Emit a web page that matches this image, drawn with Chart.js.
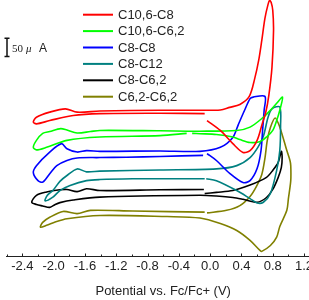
<!DOCTYPE html>
<html>
<head>
<meta charset="utf-8">
<script src="https://cdn.jsdelivr.net/npm/chart.js@4.4.0/dist/chart.umd.min.js"></script>
<style>
  html, body { margin: 0; padding: 0; background: #fff; overflow: hidden; }
  body { width: 309px; height: 300px; }
  canvas { display: block; }
</style>
</head>
<body>
<canvas id="cv-chart" width="330" height="300"></canvas>
<script>
// Potential (V vs Fc/Fc+) and current (uA, curves offset)
const seriesLabels = ['C10,6-C8', 'C10,6-C6,2', 'C8-C8', 'C8-C12', 'C8-C6,2', 'C6,2-C6,2'];
const seriesColors = ['#ff0000', '#00ff00', '#0000ff', '#008080', '#000000', '#808000'];

const redX = [-0.07, -0.64, -1.41, -1.75, -2.05, -2.22, -2.26, -2.22, -2.05, -1.85, -1.70, -1.41, -0.64, -0.13, 0.13, 0.25, 0.38, 0.50, 0.57, 0.62, 0.66, 0.70, 0.74, 0.76, 0.78, 0.80, 0.81, 0.79, 0.75, 0.71, 0.66, 0.60, 0.51, 0.42, 0.29, 0.13, -0.04];
const redY = [390, 391, 390, 385, 371, 362, 367, 380, 394, 403, 394, 397, 399, 399, 400, 407, 415, 437, 486, 535, 590, 650, 688, 699, 693, 672, 617, 516, 440, 393, 358, 317, 289, 284, 308, 344, 371];

const greenX = [-0.30, -0.64, -1.41, -1.83, -2.09, -2.22, -2.26, -2.22, -2.14, -2.05, -1.91, -1.83, -1.70, -1.53, -1.41, -0.64, -0.13, 0.34, 0.51, 0.68, 0.77, 0.85, 0.925, 0.89, 0.85, 0.80, 0.72, 0.64, 0.51, 0.38, 0.29, 0.08, -0.13, -0.23];
const greenY = [336, 330, 326, 317, 298, 291, 298, 317, 336, 341, 349, 345, 337, 341, 344, 343, 342, 344, 353, 380, 399, 418, 435, 399, 371, 344, 326, 314, 311, 319, 326, 333, 335, 336];

const blueX = [-0.09, -0.64, -1.07, -1.41, -1.70, -1.83, -1.96, -2.05, -2.14, -2.20, -2.26, -2.22, -2.05, -1.90, -1.83, -1.70, -1.58, -1.41, -0.64, -0.13, 0.13, 0.29, 0.36, 0.44, 0.51, 0.55, 0.70, 0.69, 0.67, 0.65, 0.60, 0.51, 0.42, 0.25, 0.08, -0.04];
const blueY = [276, 273, 271, 270, 269, 262, 248, 226, 203, 207, 229, 248, 285, 308, 294, 285, 289, 287, 288, 287, 298, 325, 360, 399, 431, 435, 437, 399, 344, 289, 240, 207, 202, 227, 262, 281];

const tealX = [-0.07, -0.64, -0.99, -1.41, -1.58, -1.79, -1.92, -2.01, -2.11, -2.08, -2.01, -1.92, -1.83, -1.70, -1.58, -1.41, -0.64, 0.08, 0.34, 0.51, 0.61, 0.68, 0.74, 0.79, 0.89, 0.90, 0.89, 0.85, 0.77, 0.68, 0.60, 0.51, 0.34, 0.08, -0.05];
const tealY = [212, 212, 212, 210, 207, 194, 180, 162, 152, 167, 180, 205, 221, 239, 231, 233, 236, 239, 248, 270, 298, 328, 380, 403, 408, 358, 289, 235, 172, 148, 146, 158, 180, 207, 212];

const blackX = [-0.07, 0.08, 0.29, 0.51, 0.72, 0.80, 0.87, 0.91, 0.92, 0.91, 0.87, 0.80, 0.72, 0.60, 0.42, 0.29, 0.08, -0.13, -1.41, -1.75, -1.92, -1.98, -2.05, -2.14, -2.22, -2.28, -2.22, -2.09, -1.92, -1.83, -1.70, -1.58, -1.41, -0.64, -0.08];
const blackY = [172, 175, 180, 195, 216, 235, 257, 287, 270, 243, 216, 183, 161, 148, 156, 161, 165, 167, 162, 154, 147, 142, 134, 138, 142, 148, 167, 176, 182, 183, 177, 185, 180, 182, 183];

const oliveX = [-0.04, 0.21, 0.38, 0.51, 0.59, 0.66, 0.70, 0.73, 0.77, 0.83, 0.89, 0.98, 1.02, 1.03, 1.03, 1.00, 0.98, 0.89, 0.85, 0.77, 0.66, 0.64, 0.51, 0.34, 0.13, -0.13, -0.55, -1.41, -1.83, -1.98, -2.09, -2.17, -2.14, -2.05, -1.88, -1.70, -1.53, -0.99, -0.07];
const oliveY = [119, 126, 139, 164, 191, 224, 268, 317, 352, 378, 353, 289, 262, 248, 207, 158, 126, 82, 53, 30, 14, 16, 44, 71, 90, 105, 109, 112, 103, 94, 85, 80, 93, 107, 123, 117, 126, 124, 121];

// x axis ticks (labelled every 0.4 V, small marks between)
const xMajorTicks = [-2.4, -2.0, -1.6, -1.2, -0.8, -0.4, 0.0, 0.4, 0.8, 1.2];
const xMinorTicks = [-2.6, -2.2, -1.8, -1.4, -1.0, -0.6, -0.2, 0.2, 0.6, 1.0];
const scaleBarValue = 50; // uA

const seriesX = [redX, greenX, blueX, tealX, blackX, oliveX];
const seriesY = [redY, greenY, blueY, tealY, blackY, oliveY];

const SANS = "'Liberation Sans', Arial, sans-serif";
const SERIF = "'Liberation Serif', 'Times New Roman', serif";
Chart.defaults.font.family = SANS;
Chart.defaults.color = '#222';

const datasets = seriesLabels.map((label, i) => ({
    label: label,
    data: seriesX[i].map((x, j) => ({ x: x, y: seriesY[i][j] })),
    showLine: true,
    borderColor: seriesColors[i],
    backgroundColor: seriesColors[i],
    borderWidth: 1.6,
    pointRadius: 0,
    tension: 0.3,
    fill: false
}));

// draws inward ticks, the 50 uA scale bar and the legend
const decorPlugin = {
    id: 'decor',
    afterDraw(chart) {
        const ctx = chart.ctx;
        const xs = chart.scales.x;
        const ys = chart.scales.y;
        const axisY = chart.chartArea.bottom;
        ctx.save();

        ctx.strokeStyle = '#222';
        ctx.lineWidth = 1;
        const tick = (v, len) => {
            const px = Math.round(xs.getPixelForValue(v)) + 0.5;
            ctx.beginPath();
            ctx.moveTo(px, axisY);
            ctx.lineTo(px, axisY - len);
            ctx.stroke();
        };
        xMinorTicks.forEach(v => tick(v, 2));
        xMajorTicks.forEach(v => tick(v, 3));

        // scale bar
        const barLen = ys.getPixelForValue(0) - ys.getPixelForValue(scaleBarValue);
        const barX = 7, barBottom = 56.5, barTop = barBottom - barLen;
        ctx.strokeStyle = '#111';
        ctx.lineWidth = 1.5;
        ctx.beginPath();
        ctx.moveTo(barX, barTop); ctx.lineTo(barX, barBottom);
        ctx.moveTo(barX - 2.5, barTop); ctx.lineTo(barX + 2.5, barTop);
        ctx.moveTo(barX - 2.5, barBottom); ctx.lineTo(barX + 2.5, barBottom);
        ctx.stroke();
        ctx.fillStyle = '#222';
        ctx.textBaseline = 'alphabetic';
        ctx.font = '11px ' + SERIF;
        ctx.fillText(String(scaleBarValue), 12, 52);
        ctx.font = 'italic 11px ' + SERIF;
        ctx.fillText('\u03bc', 26, 52);
        ctx.font = '12px ' + SANS;
        ctx.fillText('A', 39, 52);

        // legend
        ctx.font = '13px ' + SANS;
        ctx.textBaseline = 'middle';
        seriesLabels.forEach((label, i) => {
            const y = 14.7 + i * 16.4;
            ctx.strokeStyle = seriesColors[i];
            ctx.lineWidth = 2;
            ctx.beginPath();
            ctx.moveTo(83, y);
            ctx.lineTo(113, y);
            ctx.stroke();
            ctx.fillStyle = '#222';
            ctx.fillText(label, 118, y + 0.5);
        });
        ctx.restore();
    }
};

const ctx = document.getElementById('cv-chart').getContext('2d');
new Chart(ctx, {
    type: 'scatter',
    data: { datasets: datasets },
    options: {
        responsive: false,
        animation: false,
        devicePixelRatio: 1,
        layout: { padding: { left: 6.7, right: 10.3, top: 0, bottom: 0.3 } },
        plugins: {
            legend: { display: false },
            tooltip: { enabled: false }
        },
        scales: {
            x: {
                type: 'linear',
                min: -2.6,
                max: 1.4,
                afterBuildTicks: (scale) => {
                    scale.ticks = xMajorTicks.map(v => ({ value: v }));
                },
                afterFit: (scale) => {
                    scale.paddingLeft = 0;
                    scale.paddingRight = 0;
                },
                grid: { display: false, drawTicks: false },
                border: { display: true, color: '#222', width: 1 },
                ticks: {
                    padding: 2,
                    maxRotation: 0,
                    autoSkip: false,
                    font: { size: 13 },
                    color: '#222',
                    callback: (v) => (Math.abs(v) < 1e-9 ? 0 : Number(v)).toFixed(1)
                },
                title: {
                    display: true,
                    text: 'Potential vs. Fc/Fc+ (V)',
                    font: { size: 13 },
                    color: '#222',
                    padding: { top: 8, bottom: 0 }
                }
            },
            y: {
                display: false,
                min: 0,
                max: 700
            }
        }
    },
    plugins: [decorPlugin]
});
</script>
</body>
</html>
